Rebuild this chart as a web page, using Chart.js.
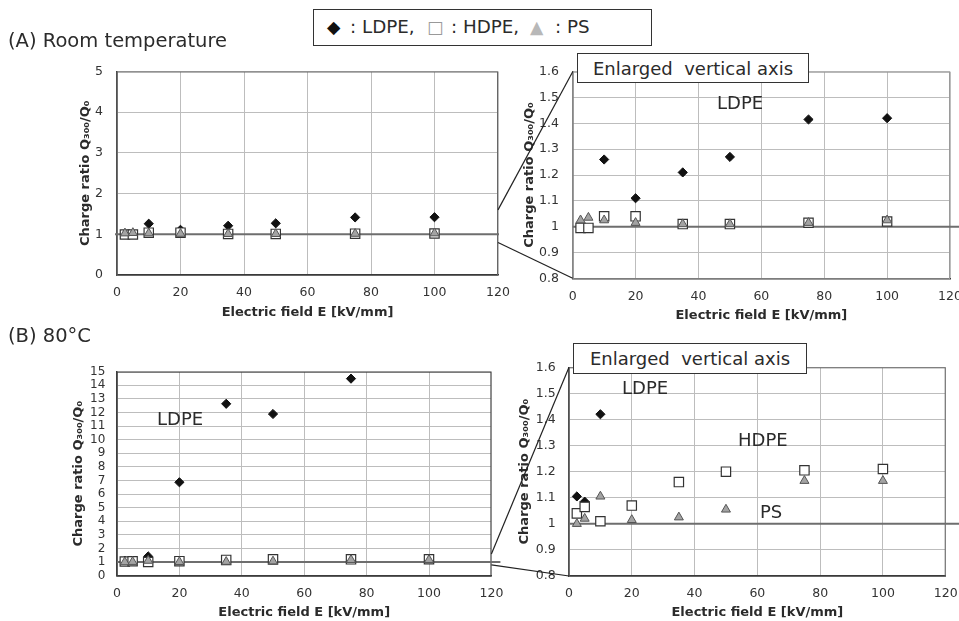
<!DOCTYPE html>
<html><head><meta charset="utf-8">
<script src="https://cdn.jsdelivr.net/npm/chart.js@4.4.1/dist/chart.umd.min.js"></script>
<style>
html,body{margin:0;padding:0;overflow:hidden;background:#fff;}
#page{position:relative;width:959px;height:621px;overflow:hidden;background:#fff;font-family:"DejaVu Sans",sans-serif;color:#2b2b2b;}
canvas{position:absolute;}
.txt{position:absolute;white-space:pre;line-height:1;}
.box{position:absolute;box-sizing:border-box;border:1.5px solid #333;background:#fff;white-space:pre;display:flex;align-items:center;z-index:3;}
.lg{position:absolute;top:0;height:34px;line-height:34px;white-space:pre;}
</style></head>
<body><div id="page">
<canvas id="cAL" width="530" height="280" style="left:0;top:50px"></canvas>
<canvas id="cAR" width="474" height="280" style="left:505px;top:50px"></canvas>
<canvas id="cBL" width="530" height="271" style="left:0;top:350px"></canvas>
<canvas id="cBR" width="474" height="276" style="left:505px;top:345px"></canvas>
<canvas id="cOv" width="959" height="621" style="left:0;top:0;z-index:2;pointer-events:none"></canvas>

<div class="txt" style="left:8px;top:31px;font-size:19.5px">(A) Room temperature</div>
<div class="txt" style="left:8px;top:326px;font-size:19.5px">(B) 80°C</div>

<div class="box" style="left:313px;top:9px;width:339px;height:37px;font-size:18.3px">
  <span class="lg" style="left:13px;color:#111;font-size:17.4px">◆</span>
  <span class="lg" style="left:36px">: LDPE,</span>
  <span class="lg" style="left:113px;color:#999;font-size:17.4px">□</span>
  <span class="lg" style="left:137px">: HDPE,</span>
  <span class="lg" style="left:216px;color:#b8b8b8;font-size:17.4px">▲</span>
  <span class="lg" style="left:241px">: PS</span>
</div>

<div class="box" style="left:577px;top:53px;width:232px;height:30px;font-size:18px;justify-content:center">Enlarged  vertical axis</div>
<div class="box" style="left:573px;top:343px;width:234px;height:31px;font-size:18px;justify-content:center">Enlarged  vertical axis</div>

<div class="txt" style="left:717px;top:94px;font-size:18px;z-index:3">LDPE</div>
<div class="txt" style="left:157px;top:410px;font-size:18px;z-index:3">LDPE</div>
<div class="txt" style="left:622px;top:379px;font-size:18px;z-index:3">LDPE</div>
<div class="txt" style="left:738px;top:431px;font-size:18px;z-index:3">HDPE</div>
<div class="txt" style="left:760px;top:503px;font-size:18px;z-index:3">PS</div>
</div>
<script>
// ---- data ----
const fieldKV  = [2.5, 5, 10, 20, 35, 50, 75, 100];
const roomLDPE = [null, null, 1.26, 1.11, 1.21, 1.27, 1.415, 1.42];
const roomHDPE = [0.995, 0.995, 1.04, 1.04, 1.01, 1.01, 1.015, 1.02];
const roomPS   = [1.025, 1.035, 1.025, 1.015, 1.01, 1.01, 1.015, 1.025];
const hotLDPE  = [1.105, 1.085, 1.42, 6.87, 12.64, 11.89, 14.49, null];
const hotHDPE  = [1.04, 1.065, 1.01, 1.07, 1.16, 1.20, 1.205, 1.21];
const hotPS    = [1.0, 1.02, 1.105, 1.015, 1.025, 1.055, 1.165, 1.165];
const xTicks      = [0, 20, 40, 60, 80, 100, 120];
const yTicksRoom  = [0, 1, 2, 3, 4, 5];
const yTicksHot   = [0, 1, 2, 3, 4, 5, 6, 7, 8, 9, 10, 11, 12, 13, 14, 15];
const yTicksZoom  = [0.8, 0.9, 1, 1.1, 1.2, 1.3, 1.4, 1.5, 1.6];
const refValue = 1;
const xTitle = 'Electric field E [kV/mm]';
const yTitle = 'Charge ratio Q\u2083\u2080\u2080/Q\u2080';

Chart.defaults.font.family = "'DejaVu Sans', sans-serif";

function pts(vals) {
  const out = [];
  fieldKV.forEach((x, i) => { if (vals[i] !== null) out.push({x: x, y: vals[i]}); });
  return out;
}

function refLinePlugin(extL, extR, frameColor) {
  return {
    id: 'refLine',
    beforeDatasetsDraw(chart) {
      const ctx = chart.ctx, a = chart.chartArea;
      ctx.save();
      ctx.strokeStyle = frameColor;
      ctx.lineWidth = 1;
      ctx.strokeRect(a.left, a.top + 0.5, a.right - a.left - 0.5, a.bottom - a.top);
      const y = chart.scales.y.getPixelForValue(refValue);
      ctx.strokeStyle = '#6e6e6e';
      ctx.lineWidth = 2;
      ctx.beginPath();
      ctx.moveTo(a.left - extL, y);
      ctx.lineTo(a.right + extR, y);
      ctx.stroke();
      ctx.restore();
    }
  };
}

function makeChart(id, c) {
  const W = c.w, H = c.h, A = c.area;
  const xH = H - A.bottom;
  const titleFont = {size: 13, weight: 'bold'};
  const tLH = 13 * 1.2;
  return new Chart(document.getElementById(id), {
    type: 'scatter',
    data: {
      datasets: [
        {label: 'LDPE', data: pts(c.ldpe), order: 3, pointStyle: 'rectRot', radius: 4.6,
         backgroundColor: '#111', borderColor: '#111', borderWidth: 1},
        {label: 'HDPE', data: pts(c.hdpe), order: 2, pointStyle: 'rect', radius: 6.6,
         backgroundColor: '#fff', borderColor: '#333', borderWidth: 1.2},
        {label: 'PS', data: pts(c.ps), order: 1, pointStyle: 'triangle', radius: 5.2,
         backgroundColor: '#a3a3a3', borderColor: '#555', borderWidth: 1}
      ]
    },
    options: {
      responsive: false, animation: false, events: [],
      layout: {padding: {left: 0, top: A.top, right: W - A.right, bottom: 0}},
      plugins: {legend: {display: false}, tooltip: {enabled: false}},
      scales: {
        x: {
          type: 'linear', min: xTicks[0], max: xTicks[xTicks.length - 1],
          afterBuildTicks: s => { s.ticks = xTicks.map(v => ({value: v})); },
          afterFit: s => { s.height = xH; },
          grid: {color: '#bdbdbd', lineWidth: 1, drawTicks: false},
          border: {display: true, color: '#3a3a3a', width: 1.5},
          ticks: {font: {size: 12.5}, color: '#333', padding: c.xTickC - 12.5 * 0.6, maxRotation: 0,
                  autoSkip: false, callback: v => String(v)},
          title: {display: true, text: xTitle, font: titleFont, color: '#2b2b2b',
                  padding: {top: 0, bottom: xH - c.xTitleC - tLH / 2}}
        },
        y: {
          type: 'linear', min: c.yTicks[0], max: c.yTicks[c.yTicks.length - 1],
          afterBuildTicks: s => { s.ticks = c.yTicks.map(v => ({value: v})); },
          afterFit: s => { s.width = A.left; },
          grid: {color: '#bdbdbd', lineWidth: 1, drawTicks: false},
          border: {display: true, color: '#3a3a3a', width: 1.5},
          ticks: {font: {size: c.yTickSize}, color: '#333', padding: c.yTickPad, autoSkip: false,
                  callback: v => String(v)},
          title: {display: true, text: yTitle, font: titleFont, color: '#2b2b2b',
                  padding: {top: c.yTitleX - tLH / 2, bottom: 0}}
        }
      }
    },
    plugins: [refLinePlugin(c.extL, c.extR, c.frame)]
  });
}

const chAL = makeChart('cAL', {w: 530, h: 280, area: {left: 117, top: 21, right: 498, bottom: 225},
  yTicks: yTicksRoom, ldpe: roomLDPE, hdpe: roomHDPE, ps: roomPS, yTickSize: 12.5, frame: '#666',
  xTickC: 17.7, xTitleC: 37.7, yTitleX: 86, yTickPad: 14, extL: 2, extR: 1});
const chAR = makeChart('cAR', {w: 474, h: 280, area: {left: 67.7, top: 21.7, right: 445, bottom: 228.3},
  yTicks: yTicksZoom, ldpe: roomLDPE, hdpe: roomHDPE, ps: roomPS, yTickSize: 12.5, frame: '#9a9a9a',
  xTickC: 18.4, xTitleC: 37.7, yTitleX: 24.3, yTickPad: 13.7, extL: 0, extR: 29});
const chBL = makeChart('cBL', {w: 530, h: 271, area: {left: 117, top: 21.7, right: 491.4, bottom: 225.7},
  yTicks: yTicksHot, ldpe: hotLDPE, hdpe: hotHDPE, ps: hotPS, yTickSize: 12, frame: '#444',
  xTickC: 17.6, xTitleC: 37, yTitleX: 78.8, yTickPad: 11.7, extL: 0, extR: 9});
const chBR = makeChart('cBR', {w: 474, h: 276, area: {left: 64, top: 22.3, right: 440.7, bottom: 231},
  yTicks: yTicksZoom, ldpe: hotLDPE, hdpe: hotHDPE, ps: hotPS, yTickSize: 12.5, frame: '#666',
  xTickC: 17.3, xTitleC: 36.7, yTitleX: 20, yTickPad: 13.3, extL: 0, extR: 34});

// connector lines between full-range and enlarged charts
function connect(ctx, big, bigOff, zoom, zoomOff, value) {
  const x1 = bigOff[0] + big.chartArea.right;
  const y1 = bigOff[1] + big.scales.y.getPixelForValue(value);
  const x2 = zoomOff[0] + zoom.chartArea.left;
  const y2 = zoomOff[1] + zoom.scales.y.getPixelForValue(value);
  ctx.beginPath(); ctx.moveTo(x1, y1); ctx.lineTo(x2, y2); ctx.stroke();
}
const ov = document.getElementById('cOv').getContext('2d');
ov.strokeStyle = '#222'; ov.lineWidth = 1.2;
const zLo = yTicksZoom[0], zHi = yTicksZoom[yTicksZoom.length - 1];
connect(ov, chAL, [0, 50], chAR, [505, 50], zHi);
connect(ov, chAL, [0, 50], chAR, [505, 50], zLo);
connect(ov, chBL, [0, 350], chBR, [505, 345], zHi);
connect(ov, chBL, [0, 350], chBR, [505, 345], zLo);
</script>
</body></html>
